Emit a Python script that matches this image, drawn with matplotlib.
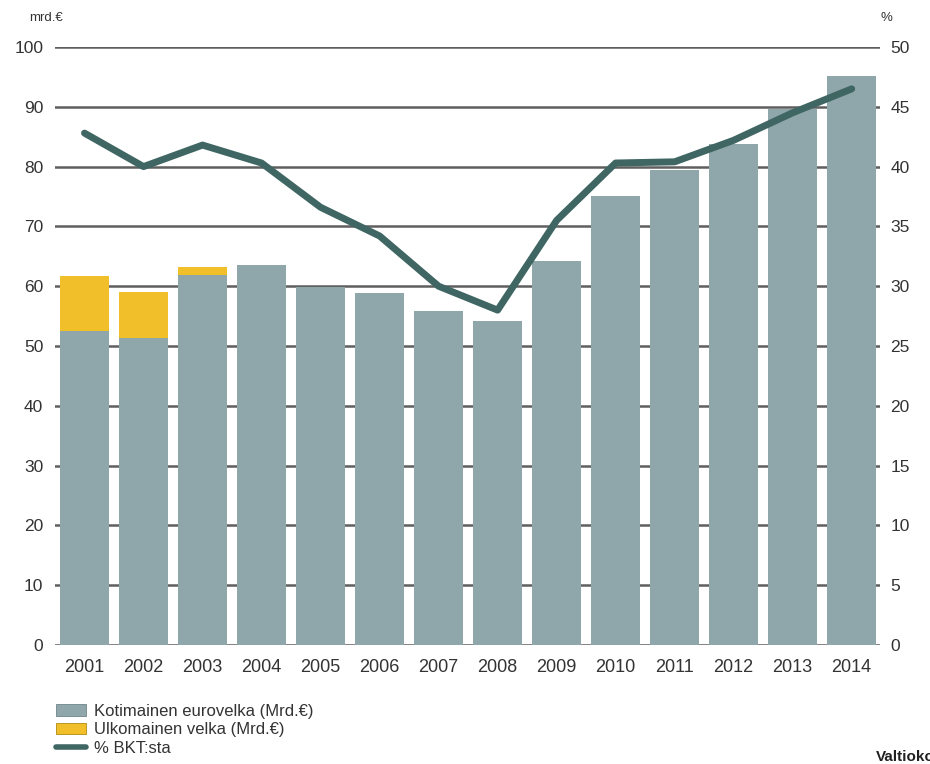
import matplotlib
matplotlib.use("Agg")
import matplotlib.pyplot as plt
from matplotlib.patches import Patch
from matplotlib.lines import Line2D
import numpy as np

plt.rcParams['font.family'] = ['Liberation Sans', 'DejaVu Sans']

years = ['2001', '2002', '2003', '2004', '2005', '2006', '2007',
         '2008', '2009', '2010', '2011', '2012', '2013', '2014']
domestic = [52.5, 51.3, 61.9, 63.5, 59.9, 58.9, 55.9,
            54.2, 64.2, 75.1, 79.4, 83.8, 89.6, 95.2]
foreign = [9.2, 7.7, 1.3, 0, 0, 0, 0, 0, 0, 0, 0, 0, 0, 0]
pct_gdp = [42.8, 40.0, 41.8, 40.3, 36.6, 34.2, 30.0,
           28.0, 35.5, 40.3, 40.4, 42.2, 44.5, 46.5]

c_dom = '#8fa6aa'
c_for = '#f0bf2a'
c_line = '#3f6663'
c_grid = '#5f5f5f'
c_text = '#333333'

W, H = 930, 764
fig = plt.figure(figsize=(W / 100, H / 100), dpi=100)
ax = fig.add_axes([55 / W, (H - 645) / H, (880 - 55) / W, (645 - 47) / H])

x = np.arange(len(years))
ax.bar(x, domestic, width=0.83, color=c_dom, zorder=2)
ax.bar(x, foreign, width=0.83, bottom=domestic, color=c_for, zorder=2)

ax.set_xlim(-0.5, 13.48)
ax.set_ylim(0, 100)
ax.set_yticks(np.arange(0, 101, 10))
ax.set_xticks(x)
ax.set_xticklabels(years)
for yv in np.arange(0, 101, 10):
    ax.axhline(yv, color=c_grid, lw=1.8, zorder=1)
for s in ax.spines.values():
    s.set_visible(False)
ax.tick_params(axis='y', length=0, pad=8.5, labelsize=12.5, labelcolor=c_text)
ax.tick_params(axis='x', length=0, pad=10, labelsize=13, labelcolor=c_text)

ax2 = ax.twinx()
ax2.set_ylim(0, 50)
ax2.set_yticks(np.arange(0, 51, 5))
for s in ax2.spines.values():
    s.set_visible(False)
ax2.tick_params(axis='y', length=0, pad=7.5,
                labelsize=12.5, labelcolor=c_text)
ax2.plot(x, pct_gdp, color=c_line, lw=5, solid_capstyle='round',
         solid_joinstyle='round', zorder=3)

fig.text(29 / W, 1 - 18 / H, 'mrd.€', fontsize=9.5, color=c_text,
         ha='left', va='center')
fig.text(880 / W, 1 - 18 / H, '%', fontsize=9.5, color=c_text,
         ha='left', va='center')

handles = [Patch(facecolor=c_dom, edgecolor='#6f8588', lw=0.6),
           Patch(facecolor=c_for, edgecolor='#b08a10', lw=0.6),
           Line2D([0], [0], color=c_line, lw=4, solid_capstyle='round')]
labels = ['Kotimainen eurovelka (Mrd.€)', 'Ulkomainen velka (Mrd.€)', '% BKT:sta']
fig.legend(handles, labels, loc='upper left',
           bbox_to_anchor=(46 / W, 1 - 694 / H), frameon=False,
           fontsize=12, handlelength=1.8, handleheight=0.7,
           labelspacing=0.2, handletextpad=0.45, labelcolor=c_text,
           borderaxespad=0.2)

fig.text(876 / W, 1 - 757 / H, 'Valtiokonttori', fontsize=11,
         fontweight='bold', color='#222222', ha='left', va='center')

fig.savefig('out.png', dpi=100)
